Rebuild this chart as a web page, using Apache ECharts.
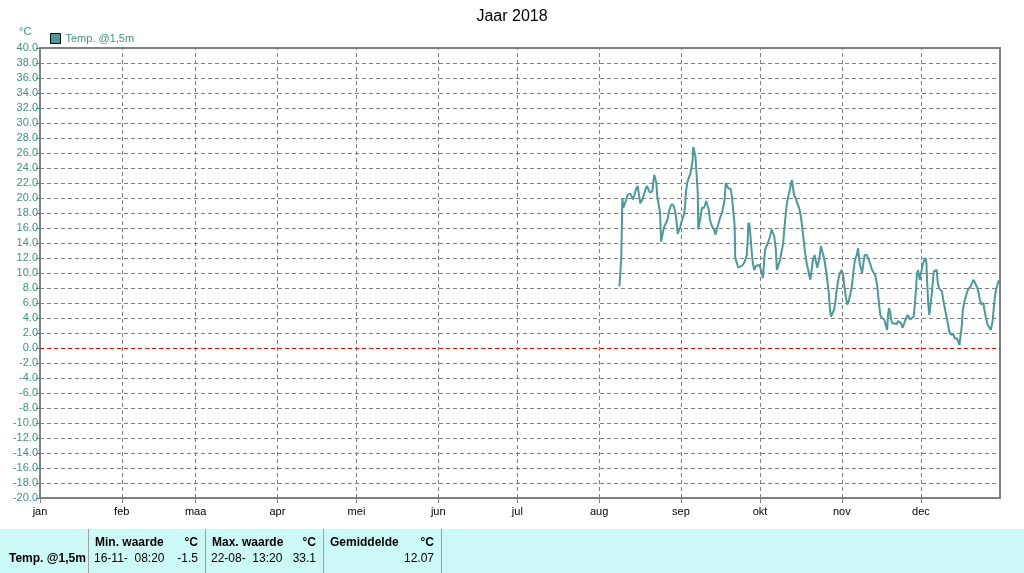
<!DOCTYPE html>
<html>
<head>
<meta charset="utf-8">
<script src="https://cdn.jsdelivr.net/npm/echarts@6/dist/echarts.min.js"></script>
<style>
html,body{margin:0;padding:0;background:#fff;}
#chart{width:1024px;height:573px;}
</style>
</head>
<body>
<div id="chart"></div>
<script>
const title = 'Jaar 2018';
const seriesName = 'Temp. @1,5m';
const unit = '°C';
const months = ['jan','feb','maa','apr','mei','jun','jul','aug','sep','okt','nov','dec'];
const monthStartDay = [0,31,59,90,120,151,181,212,243,273,304,334];
const yMin = -20, yMax = 40, yStep = 2;

// day of year (0 = 1 jan) and temperature (°C)
const days = [
219.7,220.2,220.4,220.6,220.8,221.2,221.5,222.1,222.8,223.7,224.4,224.8,225.3,225.9,226.6,227.1,227.6,228.1,228.8,229.7,
230.2,230.7,231.4,232.2,232.5,232.9,233.3,233.7,234.1,234.7,235.1,235.5,235.8,236.3,236.7,237.4,237.9,238.5,239.1,239.7,
240.3,240.8,241.3,241.8,242.3,242.8,243.3,244.2,244.6,244.9,245.4,246.0,246.5,246.8,247.2,247.5,247.7,248.1,248.5,249.0,
249.4,249.6,250.0,250.5,251.0,251.8,252.3,252.6,253.0,253.6,254.0,254.8,255.6,256.1,256.6,257.1,257.8,258.6,259.2,259.6,
260.0,260.4,261.0,261.9,262.4,262.9,263.4,263.6,264.2,264.8,265.4,266.3,266.9,267.3,268.0,268.3,268.6,269.0,269.4,269.9,
270.3,270.8,271.4,272.1,272.7,273.1,273.7,274.1,274.5,274.9,275.5,276.2,276.8,277.4,277.9,278.4,279.0,279.4,279.9,280.6,
281.2,281.8,282.2,282.8,283.2,283.7,284.3,284.8,285.1,285.5,285.9,286.5,287.1,287.8,288.3,288.8,289.4,289.8,290.3,290.8,
291.3,291.7,292.1,292.6,293.1,293.7,294.2,294.7,295.3,295.8,296.1,296.6,297.0,297.5,298.0,298.5,299.1,299.5,299.9,300.4,
301.1,301.6,302.1,302.7,303.3,304.0,304.6,305.0,305.5,306.1,306.6,307.2,307.9,308.5,309.0,309.7,310.2,310.5,310.9,311.3,
311.7,312.2,312.7,313.5,314.1,314.7,315.5,316.2,316.7,317.3,317.6,318.1,318.6,319.2,319.6,320.1,320.7,321.2,321.5,321.9,
322.3,322.7,323.2,323.9,324.8,325.4,326.0,326.5,327.0,327.5,328.0,328.5,329.0,329.5,330.0,330.5,331.3,331.8,332.2,332.5,
332.9,333.2,333.6,333.9,334.3,334.7,335.1,335.4,335.8,336.1,336.4,336.8,337.2,337.6,338.1,338.5,338.9,339.4,340.0,340.4,
340.9,341.5,342.0,342.4,342.8,343.3,343.8,344.3,344.8,345.3,345.8,346.3,346.8,347.6,348.1,348.6,349.1,349.5,349.9,350.4,
350.9,351.4,351.9,352.4,352.9,353.4,353.9,354.4,354.9,355.4,355.9,356.4,356.9,357.4,357.7,358.1,358.7,359.3,360.0,360.5,
360.9,361.2,361.7,362.1,362.5,363.0,363.4,363.8
];
const temps = [
8.2,8.3,12,16,20,18.7,18.7,19.6,20.4,20.6,20.2,19.8,20.3,21.1,21.6,21.8,19.3,19.6,20.2,21.3,
21.6,21.1,20.7,20.9,22,23.1,23,22,20,18.9,18,14.2,14.2,15.6,16.2,16.7,17.1,18.2,18.9,19.2,
18.9,18.2,17.1,15.2,15.3,16.2,16.9,17.8,18.9,20.7,22,22.7,23.1,23.3,24.4,25.3,26.8,26.7,25.6,22.9,
20.7,15.8,15.8,17.6,18.7,18.7,18.9,19.6,19.1,18.4,17.1,16.2,15.8,15.1,15.8,16.4,17.3,18,18.2,19.8,
22,21.8,21.3,21.2,20,18.2,16.2,12,11.8,10.7,10.7,11,11.3,11.6,12.4,14.2,16.7,16.4,14.9,12.7,
11.3,10.4,10.9,11.1,11.1,10.7,10,9.3,9.3,13.1,13.6,14.2,14.9,15.8,16,14.9,13.1,10.4,10.9,11.8,
12.9,14,15.8,18,19.3,20.2,21.1,22,22.4,22.2,20.4,20,19.3,18.7,18,16.7,14.9,13.6,12.2,11.1,
10.4,9.6,9.1,10.5,11.8,12.4,12.2,10.7,11.6,12.7,13.6,12.9,12.4,11.6,10.4,9.1,7.3,5.3,4.2,4.4,
5.1,6.2,7.8,9.1,10,10.4,9.6,8.2,6.9,5.8,6.2,7.1,8.4,10.4,11.8,12.4,13.3,12.2,11.1,10.9,
10,11.3,12.4,12.4,12.2,11.3,10.4,10.2,9.7,8.6,7.8,6,4.4,4,4,3.8,3.6,2.4,4.2,5.3,
4.9,3.8,3.3,3.3,3.2,3.6,3.6,3.3,2.7,3.1,3.6,4,4.4,4.2,3.8,4,4.2,6.2,8.2,9.8,
10.4,10.2,9.1,9.8,10.4,11.1,11.6,11.8,12,11.3,8.7,5.8,4.4,5.6,7.1,8.7,10.2,10.4,10.4,8.7,
8,7.9,7.5,6.6,5.8,4.9,4,3.1,2.2,1.8,1.6,1.8,1.3,1.3,0.9,0.4,0.4,2.9,5.1,6,
6.7,7.3,7.8,8,8.2,8.4,9.1,8.9,8.4,8,7.3,6.4,5.8,5.6,6,5.1,4,3.1,2.7,2.4,
2.4,3.6,5.6,6.9,7.8,8.4,8.9,9.0
];

// statistics table
const statRowLabel = 'Temp. @1,5m';
const statHeaders = ['Min. waarde','Max. waarde','Gemiddelde'];
const statTimes = ['16-11-  08:20','22-08-  13:20',''];
const statValues = ['-1.5','33.1','12.07'];

const teal = '#3f8e8b';
const lineColor = '#4a9a97';
const gridGray = '#808080';
const FONT = '"Liberation Sans", Arial, sans-serif';

const chart = echarts.init(document.getElementById('chart'), null, {renderer:'canvas'});

const lineData = days.map((d,i)=>[d,temps[i]]);

// table graphics
const cellX = [88,205,323,441];
const g = [];
g.push({type:'rect', shape:{x:0,y:529,width:1024,height:44}, style:{fill:'#ccf9f6'}, silent:true});
cellX.forEach(x=>g.push({type:'line', shape:{x1:x+0.5,y1:529,x2:x+0.5,y2:573}, style:{stroke:'#a0a0a0',lineWidth:1}, silent:true}));
g.push({type:'text', x:9, y:559, style:{text:statRowLabel, font:'bold 12px '+FONT, fill:'#000', verticalAlign:'middle'}, silent:true});
statHeaders.forEach((h,i)=>{
  const x0 = cellX[i];
  const x1 = cellX[i+1];
  g.push({type:'text', x:x0+7, y:543, style:{text:h, font:'bold 12px '+FONT, fill:'#000', verticalAlign:'middle'}, silent:true});
  g.push({type:'text', x:x1-7, y:543, style:{text:unit, font:'bold 12px '+FONT, fill:'#000', align:'right', verticalAlign:'middle'}, silent:true});
  if (statTimes[i]) g.push({type:'text', x:x0+6, y:559, style:{text:statTimes[i], font:'12px '+FONT, fill:'#000', verticalAlign:'middle'}, silent:true});
  g.push({type:'text', x:x1-7, y:559, style:{text:statValues[i], font:'12px '+FONT, fill:'#000', align:'right', verticalAlign:'middle'}, silent:true});
});
g.push({type:'text', x:19, y:32, style:{text:unit, font:'11px '+FONT, fill:teal, verticalAlign:'middle'}, silent:true});

const option = {
  animation:false,
  backgroundColor:'#fff',
  title:{text:title, left:'center', top:4, textStyle:{fontFamily:FONT, fontSize:16, fontWeight:'normal', color:'#000'}},
  legend:{data:[seriesName], left:50, top:33, padding:0, icon:'rect', itemWidth:10, itemHeight:10, itemGap:5,
    itemStyle:{borderColor:'#000', borderWidth:1},
    textStyle:{color:teal, fontFamily:FONT, fontSize:11}},
  grid:{left:40, right:24, top:48, bottom:75, show:true, borderColor:gridGray, borderWidth:2, backgroundColor:'#fff'},
  xAxis:{type:'value', min:0, max:364,
    axisLine:{show:true, onZero:false, lineStyle:{color:gridGray, width:2}},
    axisTick:{show:true, customValues:monthStartDay, length:5, lineStyle:{color:gridGray}},
    axisLabel:{customValues:monthStartDay, color:'#000', fontFamily:FONT, fontSize:11, margin:8,
      formatter:v=>{const k=monthStartDay.indexOf(Math.round(v)); return k>=0?months[k]:'';}},
    splitLine:{show:false}},
  yAxis:{type:'value', min:yMin, max:yMax, interval:yStep,
    axisLine:{show:true, onZero:false, lineStyle:{color:gridGray, width:2}},
    axisTick:{show:true, length:4, lineStyle:{color:teal}},
    axisLabel:{color:teal, fontFamily:FONT, fontSize:11, margin:2, formatter:v=>v.toFixed(1)},
    splitLine:{show:true, lineStyle:{color:gridGray, width:1, type:[4,3]}}},
  series:[
    {type:'line', data:[], z:1, silent:true,
      markLine:{silent:true, symbol:['none','none'], label:{show:false}, animation:false,
        data:[
          ...monthStartDay.slice(1).map(d=>({xAxis:d, lineStyle:{color:gridGray, width:1, type:[4,3]}})),
          {yAxis:0, lineStyle:{color:'#ff0000', width:1, type:[4,3]}}
        ]}},
    {name:seriesName, type:'line', data:lineData, showSymbol:false, z:3,
      lineStyle:{color:lineColor, width:2}, itemStyle:{color:lineColor}}
  ],
  graphic:g
};
chart.setOption(option);
</script>
</body>
</html>
